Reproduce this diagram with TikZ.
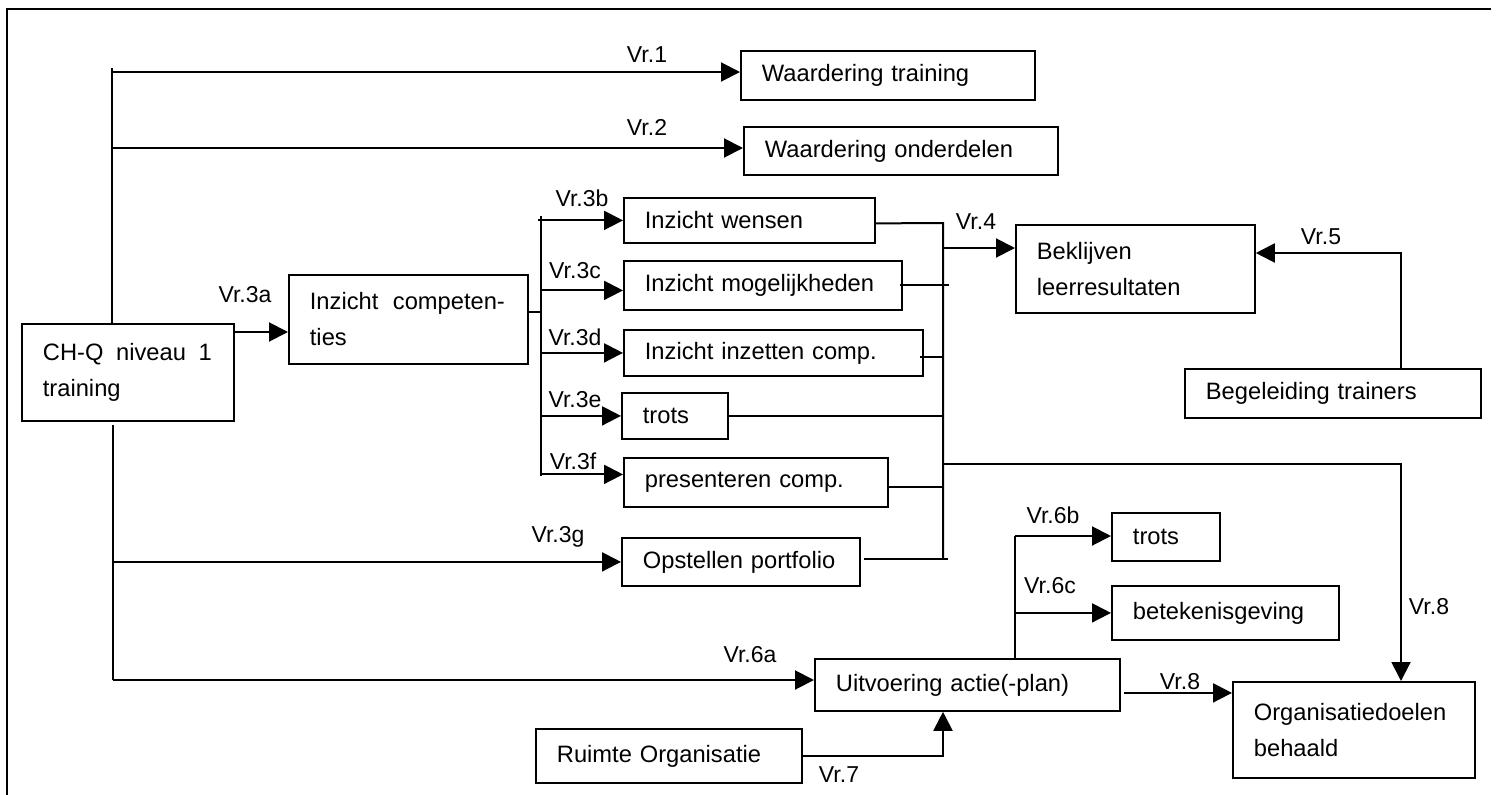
\documentclass[tikz,border=0pt]{standalone}
\usepackage{fontspec}
\setmainfont{Liberation Sans}
\usepackage{tikz}
\usetikzlibrary{arrows.meta,calc}

\begin{document}
\begin{tikzpicture}[
  x=1pt, y=-1pt,
  every node/.style={font=\fontsize{23.7}{36}\selectfont},
  vak/.style={draw, line width=1.8pt, anchor=north west, align=left,
              inner xsep=21pt, inner ysep=0pt},
  lijn/.style={line width=2pt},
  pijl/.style={lijn, -{Triangle[length=19pt, width=19pt]}},
  lbl/.style={inner sep=0pt, font=\fontsize{23}{28}\selectfont},
]

\useasboundingbox (0,0) rectangle (1497,795);

%% ── Frame ────────────────────────────────────────────────────────────────────
\draw[line width=2.4pt] (1491,9) -- (7,9) -- (7,795);

%% ════════════════════════════════════════════════════════════════════════════
%% BOXES
%% ════════════════════════════════════════════════════════════════════════════
\node[vak, text width=170pt, minimum height=97pt] (chq) at (21,323)
  {\hbox to 169pt{CH-Q\hfill niveau\hfill 1}\\training\\[-8pt]};
\node[vak, text width=197pt, minimum height=89pt] (compet) at (288,274)
  {\hbox to 195pt{Inzicht\hfill competen-}\\ties};

\node[vak, text width=252pt, minimum height=49pt] (wtrain) at (740,50)
  {Waardering training};
\node[vak, text width=272pt, minimum height=48pt] (wonder) at (743,126)
  {Waardering onderdelen};

%% insight boxes
\node[vak, text width=209pt, minimum height=45pt] (iwens) at (623,197)
  {Inzicht wensen};
\node[vak, text width=236pt, minimum height=49pt] (imogel) at (623,260)
  {Inzicht mogelijkheden};
\node[vak, text width=257pt, minimum height=46pt] (iinzet) at (623,329)
  {Inzicht inzetten comp.};
\node[vak, text width=64pt, minimum height=46pt] (trotsA) at (621,392)
  {trots};
\node[vak, text width=222pt, minimum height=49pt] (present) at (623,457)
  {presenteren comp.};
\node[vak, text width=196pt, minimum height=48pt] (portf) at (621,537)
  {Opstellen portfolio};

%% right side
\node[vak, text width=197pt, minimum height=88pt] (beklijf) at (1015,224)
  {Beklijven\\leerresultaten};
\node[vak, text width=254pt, minimum height=49pt] (begel) at (1184,368)
  {Begeleiding trainers};

%% bottom
\node[vak, text width=263pt, minimum height=52pt] (uitv) at (814,658)
  {Uitvoering actie(-plan)};
\node[vak, text width=224pt, minimum height=54pt] (ruimte) at (535,728)
  {Ruimte Organisatie};
\node[vak, text width=66pt, minimum height=48pt] (trotsB) at (1111,512)
  {trots};
\node[vak, text width=185pt, minimum height=54pt] (beteken) at (1111,585)
  {betekenisgeving};
\node[vak, text width=200pt, minimum height=96pt] (orgdoel) at (1232,681)
  {Organisatiedoelen\\behaald};

%% ════════════════════════════════════════════════════════════════════════════
%% CONNECTORS
%% ════════════════════════════════════════════════════════════════════════════
\coordinate (tTop) at (112,68);
\coordinate (tBot) at (113,680);
\coordinate (busA) at (541,216);
\coordinate (busB) at (943,223);
\coordinate (j4) at (943,248);
\coordinate (j8) at (943,464);
\coordinate (k8) at (1401,464);
\coordinate (k5) at (1401,253);
\coordinate (k6) at (1015,536);
\coordinate (k7) at (943,752);

%% trunk from CH-Q, upwards and downwards
\draw[lijn] (tTop) -- (tTop |- chq.north);
\draw[lijn] ([yshift=-3pt]chq.south -| tBot) -- (tBot);
\draw[pijl] (tTop |- 0,72) -- (wtrain.west |- 0,72);
\draw[pijl] (tTop |- 0,148) -- (wonder.west |- 0,148);
\draw[pijl] (tBot |- portf.west) -- (portf.west);
\draw[pijl] (tBot) -- (tBot -| uitv.west);

%% Vr.3a
\draw[pijl] ([yshift=-9pt]chq.north east) coordinate (a3) -- (a3 -| compet.west);

%% branch bus A
\draw[lijn] ([yshift=7pt]compet.east) -- ([yshift=7pt]compet.east -| busA);
\draw[lijn] (busA) -- ++(0,260);
\draw[pijl] ([xshift=-3pt]busA |- iwens.west) -- (iwens.west);
\draw[pijl] ([yshift=-5pt]imogel.west -| busA) -- ([yshift=-5pt]imogel.west);
\draw[pijl] (busA |- iinzet.west) -- (iinzet.west);
\draw[pijl] (busA |- trotsA.west) -- (trotsA.west);
\draw[pijl] ([yshift=8pt]present.west -| busA) -- ([yshift=8pt]present.west);

%% collecting bus B
\draw[lijn] ([yshift=-3pt]iwens.east) -- (busB) -- (busB |- 0,559);
\draw[lijn] ([xshift=-3pt]imogel.east) -- ++(49,0);
\draw[lijn] ([shift={(-4pt,-4pt)}]iinzet.east) -- ([yshift=-4pt]iinzet.east -| busB);
\draw[lijn] (trotsA.east) -- (trotsA.east -| busB);
\draw[lijn] ([shift={(-2pt,-5pt)}]present.east) -- ([yshift=-5pt]present.east -| busB);
\draw[lijn] ([shift={(3pt,3pt)}]portf.east) -- ([yshift=3pt]portf.east -| busB) -- ++(5,0);

%% Vr.4, Vr.5, Vr.8
\draw[pijl] (j4) -- (j4 -| beklijf.west);
\draw[pijl] (k5 |- begel.north) -- (k5) -- (k5 -| beklijf.east);
\draw[pijl] (j8) -- (k8) -- (k8 |- orgdoel.north);

%% action plan branches
\draw[lijn] (k6 |- uitv.north) -- (k6);
\draw[pijl] (k6) -- (k6 -| trotsB.west);
\draw[pijl] (k6 |- beteken.west) -- (beteken.west);
\draw[pijl] ([shift={(3pt,-8pt)}]uitv.east) coordinate (u8) -- (u8 -| orgdoel.west);
\draw[pijl] (ruimte.east) -- (ruimte.east -| k7) -- (k7 |- uitv.south);

%% ── Labels ───────────────────────────────────────────────────────────────────
\node[lbl] (l1)  at (647,55)   {Vr.1};
\node[lbl] (l2)  at (647,127)  {Vr.2};
\node[lbl] (l3a) at (245,295)  {Vr.3a};
\node[lbl] (l3b) at (582,198)  {Vr.3b};
\node[lbl] (l3c) at (575,271)  {Vr.3c};
\node[lbl] (l3d) at (575,337)  {Vr.3d};
\node[lbl] (l3e) at (575,400)  {Vr.3e};
\node[lbl] (l3f) at (573,461)  {Vr.3f};
\node[lbl] (l3g) at (558,537)  {Vr.3g};
\node[lbl] (l4)  at (976,222)  {Vr.4};
\node[lbl] (l5)  at (1321,237) {Vr.5};
\node[lbl] (l6a) at (750,655)  {Vr.6a};
\node[lbl] (l6b) at (1053,515) {Vr.6b};
\node[lbl] (l6c) at (1050,586) {Vr.6c};
\node[lbl] (l7)  at (839,775)  {Vr.7};
\node[lbl] (l8a) at (1180,682) {Vr.8};
\node[lbl] (l8b) at (1429,607) {Vr.8};

\end{tikzpicture}
\end{document}
